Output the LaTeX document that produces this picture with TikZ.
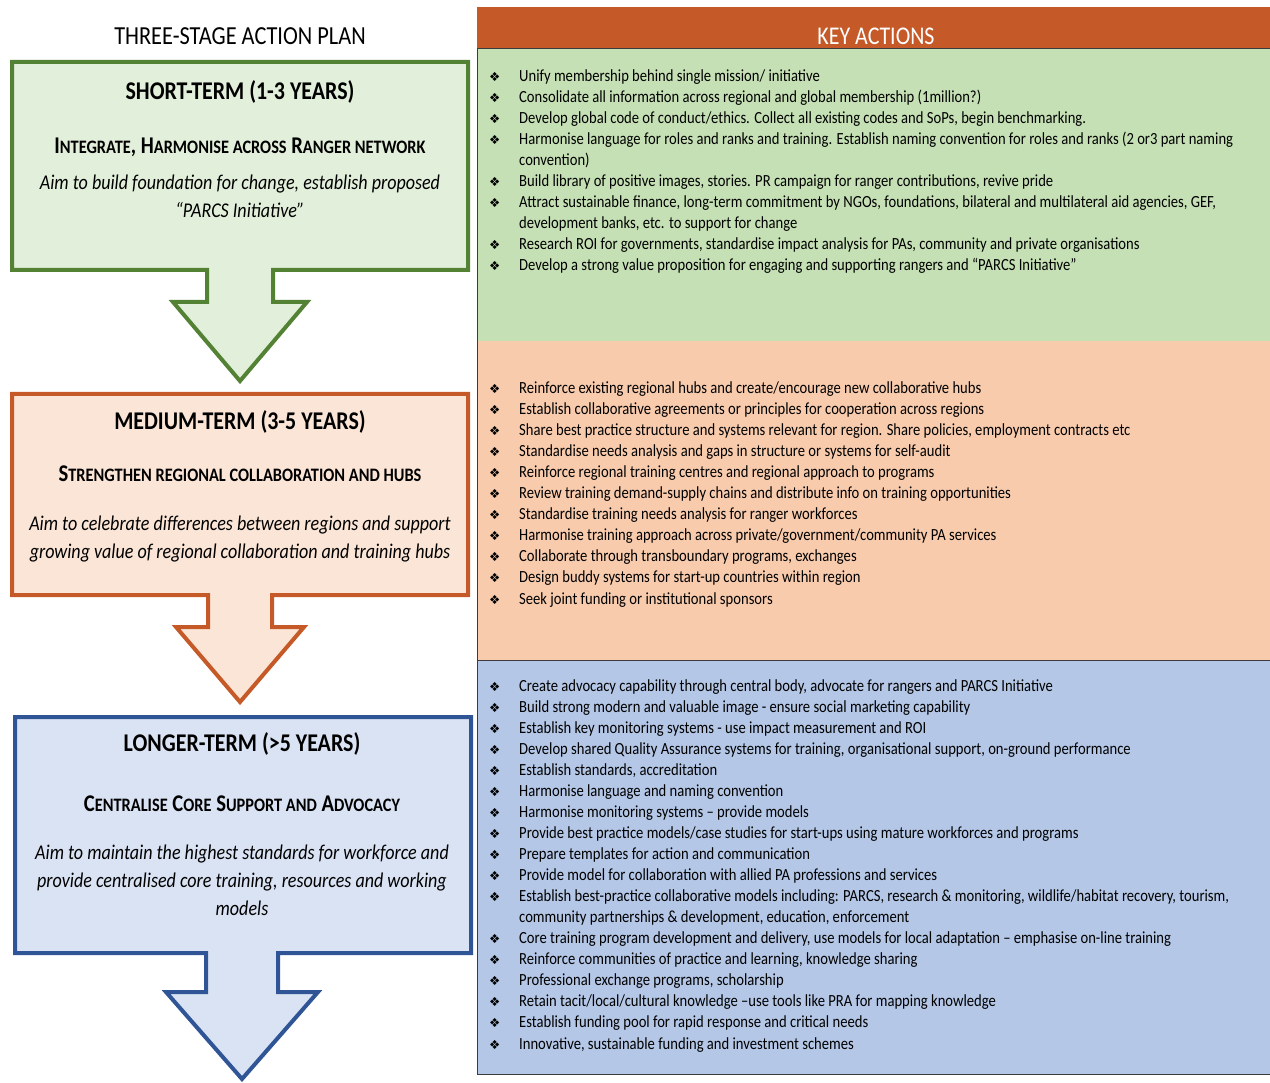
\documentclass[tikz,border=0pt]{standalone}
\usepackage{fontspec}
\setmainfont{Carlito}[FakeStretch=0.86]
\newfontfamily\bulfont{DejaVu Sans}
\usetikzlibrary{positioning}

\definecolor{greenline}{RGB}{84,130,53}
\definecolor{greenfill}{RGB}{226,239,218}
\definecolor{orangeline}{RGB}{197,90,40}
\definecolor{orangefill}{RGB}{251,229,214}
\definecolor{blueline}{RGB}{47,85,151}
\definecolor{bluefill}{RGB}{218,227,243}
\definecolor{headfill}{RGB}{197,90,40}
\definecolor{greenpanel}{RGB}{197,224,180}
\definecolor{orangepanel}{RGB}{248,203,173}
\definecolor{bluepanel}{RGB}{180,199,231}
\definecolor{panelline}{RGB}{60,60,60}

\newcommand\lsc[1]{{\fontsize{19}{22}\selectfont #1}}
\newcommand\act{\makebox[30pt][l]{\bulfont\fontsize{12.5}{12.5}\selectfont ❖}}
\newcommand\cont{\hspace*{30pt}}

\tikzset{
  stage/.style={line width=4pt, line join=miter},
  stagetitle/.style={font=\bfseries\fontsize{25.5}{30}\selectfont, inner sep=0pt, anchor=base},
  stagesub/.style={font=\bfseries\fontsize{24}{28}\selectfont, inner sep=0pt, anchor=base},
  stageaim/.style={font=\itshape\fontsize{21}{28}\selectfont, align=center, inner sep=0pt, anchor=base},
  actlist/.style={font=\fontsize{17}{21.05}\selectfont, align=left, inner sep=0pt, anchor=base west},
}

\begin{document}
\begin{tikzpicture}[x=1pt,y=-1pt]
\useasboundingbox (0,0) rectangle (1270,1083);

% left column: three stages
\node[font=\fontsize{26}{30}\selectfont, inner sep=0pt, anchor=base] (plan) at (240,45) {THREE-STAGE ACTION PLAN};

\draw[stage, draw=greenline, fill=greenfill] (12,62) -- (468,62) -- (468,270) -- (273,270) -- (273,302) -- (307,302) -- (240,381) -- (173,302) -- (207,302) -- (207,270) -- (12,270) -- cycle;
\node[stagetitle] (short) at (240,100) {SHORT-TERM (1-3 YEARS)};
\node[stagesub] (short-sub) at (240,154) {I\lsc{NTEGRATE}, H\lsc{ARMONISE ACROSS} R\lsc{ANGER NETWORK}};
\node[stageaim] (short-aim) at (240,218) {Aim to build foundation for change, establish proposed\\``PARCS Initiative''};

\draw[stage, draw=orangeline, fill=orangefill] (12,394) -- (468,394) -- (468,595) -- (272,595) -- (272,627) -- (304,627) -- (240,702) -- (176,627) -- (208,627) -- (208,595) -- (12,595) -- cycle;
\node[stagetitle] (medium) at (240,429) {MEDIUM-TERM (3-5 YEARS)};
\node[stagesub] (medium-sub) at (240,482) {S\lsc{TRENGTHEN REGIONAL COLLABORATION AND HUBS}};
\node[stageaim] (medium-aim) at (240,558) {Aim to celebrate differences between regions and support\\growing value of regional collaboration and training hubs};

\draw[stage, draw=blueline, fill=bluefill] (15,717) -- (471,717) -- (471,953) -- (278,953) -- (278,992) -- (318,992) -- (242,1079) -- (166,992) -- (206,992) -- (206,953) -- (15,953) -- cycle;
\node[stagetitle] (longer) at (242,751) {LONGER-TERM (>5 YEARS)};
\node[stagesub] (longer-sub) at (242,811) {C\lsc{ENTRALISE} C\lsc{ORE} S\lsc{UPPORT AND} A\lsc{DVOCACY}};
\node[stageaim] (longer-aim) at (242,915) {Aim to maintain the highest standards for workforce and\\provide centralised core training, resources and working\\models};

% right column: key actions
\fill[headfill] (477,7) rectangle (1270,49);
\node[font=\fontsize{25.5}{30}\selectfont, text=white, inner sep=0pt, anchor=base] (keyact) at (876,45) {KEY ACTIONS};
\fill[greenpanel] (477,49) rectangle (1270,341);
\fill[orangepanel] (477,341) rectangle (1270,660);
\fill[bluepanel] (477,660) rectangle (1270,1074);
\draw[panelline, line width=1pt] (477,49) rectangle (1270,1074);
\draw[panelline, line width=1pt] (477,660) -- (1270,660);

\node[actlist] (short-list) at (489,271) {%
\act Unify membership behind single mission/ initiative\\
\act Consolidate all information across regional and global membership (1million?)\\
\act Develop global code of conduct/ethics. Collect all existing codes and SoPs, begin benchmarking.\\
\act Harmonise language for roles and ranks and training. Establish naming convention for roles and ranks (2 or3 part naming\\
\cont convention)\\
\act Build library of positive images, stories. PR campaign for ranger contributions, revive pride\\
\act Attract sustainable finance, long-term commitment by NGOs, foundations, bilateral and multilateral aid agencies, GEF,\\
\cont development banks, etc. to support for change\\
\act Research ROI for governments, standardise impact analysis for PAs, community and private organisations\\
\act Develop a strong value proposition for engaging and supporting rangers and ``PARCS Initiative''};

\node[actlist] (medium-list) at (489,604) {%
\act Reinforce existing regional hubs and create/encourage new collaborative hubs\\
\act Establish collaborative agreements or principles for cooperation across regions\\
\act Share best practice structure and systems relevant for region. Share policies, employment contracts etc\\
\act Standardise needs analysis and gaps in structure or systems for self-audit\\
\act Reinforce regional training centres and regional approach to programs\\
\act Review training demand-supply chains and distribute info on training opportunities\\
\act Standardise training needs analysis for ranger workforces\\
\act Harmonise training approach across private/government/community PA services\\
\act Collaborate through transboundary programs, exchanges\\
\act Design buddy systems for start-up countries within region\\
\act Seek joint funding or institutional sponsors};

\node[actlist] (longer-list) at (489,1049) {%
\act Create advocacy capability through central body, advocate for rangers and PARCS Initiative\\
\act Build strong modern and valuable image - ensure social marketing capability\\
\act Establish key monitoring systems - use impact measurement and ROI\\
\act Develop shared Quality Assurance systems for training, organisational support, on-ground performance\\
\act Establish standards, accreditation\\
\act Harmonise language and naming convention\\
\act Harmonise monitoring systems -- provide models\\
\act Provide best practice models/case studies for start-ups using mature workforces and programs\\
\act Prepare templates for action and communication\\
\act Provide model for collaboration with allied PA professions and services\\
\act Establish best-practice collaborative models including: PARCS, research \& monitoring, wildlife/habitat recovery, tourism,\\
\cont community partnerships \& development, education, enforcement\\
\act Core training program development and delivery, use models for local adaptation -- emphasise on-line training\\
\act Reinforce communities of practice and learning, knowledge sharing\\
\act Professional exchange programs, scholarship\\
\act Retain tacit/local/cultural knowledge --use tools like PRA for mapping knowledge\\
\act Establish funding pool for rapid response and critical needs\\
\act Innovative, sustainable funding and investment schemes};
\end{tikzpicture}
\end{document}
